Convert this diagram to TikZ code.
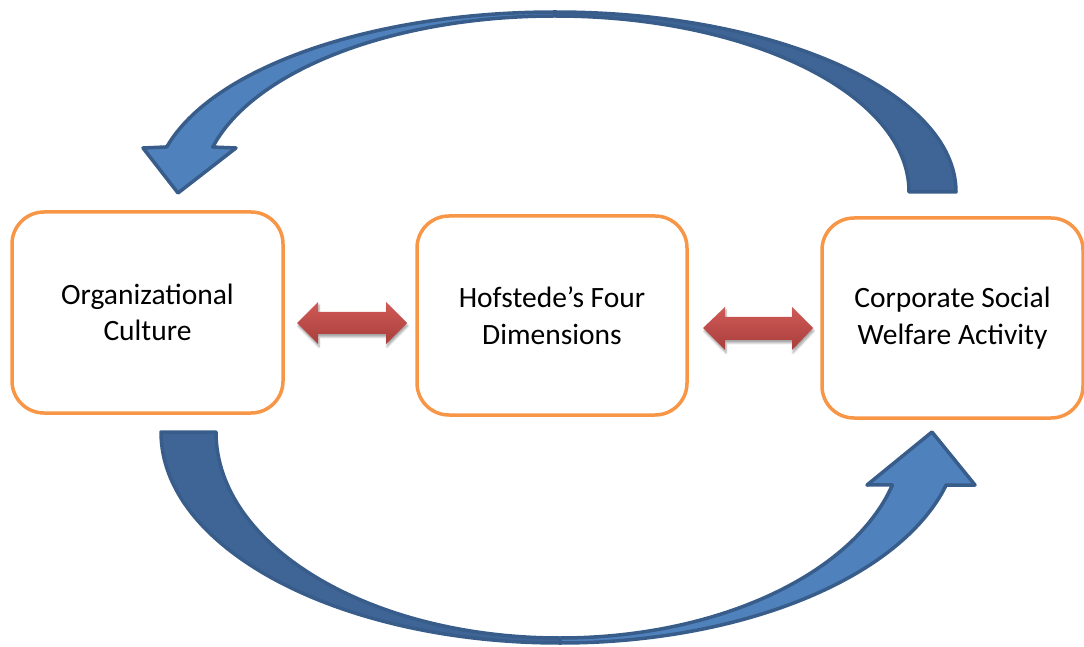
\documentclass[tikz,border=0pt]{standalone}
\usepackage{fontspec}
\setmainfont{Carlito}
\usetikzlibrary{shadows.blur,calc}
\definecolor{boxorange}{HTML}{F79646}
\definecolor{arrowlight}{HTML}{4F81BD}
\definecolor{arrowdark}{HTML}{3F6596}
\definecolor{arrowline}{HTML}{385D8A}
\definecolor{redtop}{HTML}{D05A57}
\definecolor{redbot}{HTML}{A83E3B}
\tikzset{
  conceptbox/.style={draw=boxorange, line width=3.5pt, fill=white, rounded corners=32pt,
    align=center, font=\fontsize{29.5}{36.5}\selectfont, text=black, inner sep=0pt},
  bandfront/.style={fill=arrowlight, draw=arrowline, line width=3.5pt, line join=round},
  bandback/.style={fill=arrowdark, draw=arrowline, line width=3.5pt, line join=round},
  redarrow/.style={top color=redtop, bottom color=redbot, draw=none,
    blur shadow={shadow xshift=1pt, shadow yshift=-3pt, shadow opacity=35, shadow blur steps=6}}
}
\begin{document}
\begin{tikzpicture}[x=1pt,y=1pt]
\useasboundingbox (0,0) rectangle (1084,646);
% boxes
\node[conceptbox, minimum width=271pt, minimum height=201pt] (oc) at (147.5,333.5) {Organizational\\Culture};
\node[conceptbox, minimum width=270pt, minimum height=199pt] (hf) at (552,330.5) {Hofstede’s Four\\Dimensions};
\node[conceptbox, minimum width=261pt, minimum height=200pt] (cs) at (952.5,328) {Corporate Social\\Welfare Activity};
% top curved arrow (from right box back to left box)
\draw[bandback] (956,454) arc[start angle=0, end angle=90, x radius=401, y radius=180]
  -- (555,630) arc[start angle=90, end angle=0, x radius=354, y radius=176] -- cycle;
\draw[bandfront] (555,634) arc[start angle=90, end angle=165.5, x radius=401, y radius=180]
  -- (143,498) -- (178,453) -- (236,498)
  -- ($(555,454)+(165.2:354 and 176)$) arc[start angle=165.2, end angle=90, x radius=354, y radius=176] -- cycle;
% bottom curved arrow (from left box to right box)
\draw[bandback] (161,214) arc[start angle=180, end angle=270, x radius=399, y radius=211]
  -- (560,8) arc[start angle=270, end angle=180, x radius=344, y radius=206] -- cycle;
\draw[bandfront] (560,3) arc[start angle=270, end angle=345.45, x radius=399, y radius=211]
  -- (975,161) -- (932,214) -- (867,161)
  -- ($(560,214)+(345.1:344 and 206)$) arc[start angle=345.1, end angle=270, x radius=344, y radius=206] -- cycle;
% double arrows
\path[redarrow] (297,323) -- (318,344) -- (318,334) -- (386,334) -- (386,344) -- (407,323)
  -- (386,302) -- (386,312) -- (318,312) -- (318,302) -- cycle;
\path[redarrow] (703,318) -- (725,339) -- (725,329) -- (792,329) -- (792,339) -- (813,318)
  -- (792,296) -- (792,306) -- (725,306) -- (725,296) -- cycle;
\end{tikzpicture}
\end{document}
